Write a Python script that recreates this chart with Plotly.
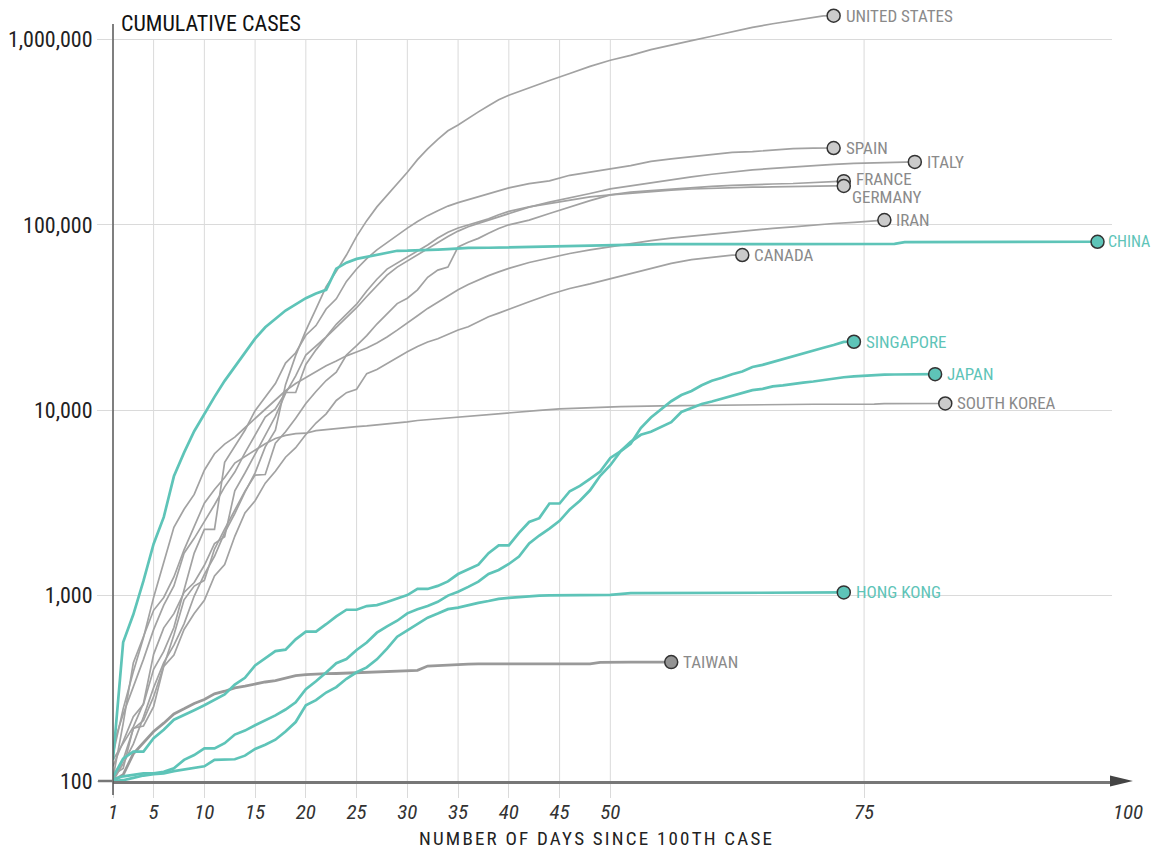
import math
import plotly.graph_objects as go

# ------------------------------------------------------------------ data
X_TICKS = [1, 5, 10, 15, 20, 25, 30, 35, 40, 45, 50, 75]
X_END_TICK = 100
Y_TICKS = [100, 1000, 10000, 100000, 1000000]
Y_TICK_TEXT = ["100", "1,000", "10,000", "100,000", "1,000,000"]

US_DAYS = list(range(1, 41)) + [42, 44, 46, 48, 50, 52, 54, 56, 58, 60, 62, 64, 66, 68, 70, 71, 72]
US_CASES = [100, 124, 158, 221, 319, 435, 541, 704, 994, 1301, 1630, 2183, 2770, 3613, 4596,
            6344, 7801, 13737, 19762, 26867, 35241, 46407, 56115, 68683, 86613, 105293, 124900,
            143779, 165861, 192177, 224544, 256722, 289114, 321635, 345616, 376041, 406513,
            438689, 472283, 500000,
            550000, 600000, 655000, 715000, 772000, 820000, 880000, 935000, 985000, 1040000,
            1100000, 1160000, 1215000, 1265000, 1310000, 1338000, 1342000]

SPAIN_DAYS = list(range(1, 41)) + [42, 44, 46, 48, 50, 52, 54, 56, 58, 60, 62, 64, 66, 68, 70, 71, 72]
SPAIN_CASES = [120, 165, 222, 259, 400, 500, 673, 1073, 1695, 2277, 2277, 5232, 6391, 7798, 9942,
               11748, 13910, 17963, 20410, 25374, 28603, 35136, 39885, 49515, 57786, 65719, 73235,
               80110, 87956, 95923, 104118, 112065, 119199, 126168, 131646, 136675, 141942,
               148220, 153222, 158273,
               166831, 172541, 184948, 191726, 200210, 208389, 219764, 226629, 232128, 239369,
               245567, 248301, 253682, 257500, 259000, 259300, 259500]

ITALY_DAYS = list(range(1, 41)) + [42, 44, 46, 48, 50, 52, 54, 56, 58, 60, 62, 64, 66, 68, 70,
                                   72, 74, 76, 78, 79, 80]
ITALY_CASES = [155, 229, 322, 453, 655, 888, 1128, 1694, 2036, 2502, 3089, 3858, 4636, 5883, 7375,
               9172, 10149, 12462, 12462, 17660, 21157, 24747, 27980, 31506, 35713, 41035, 47021,
               53578, 59138, 63927, 69176, 74386, 80589, 86498, 92472, 97689, 101739, 105792,
               110574, 115242,
               124632, 132547, 139422, 147577, 156363, 162488, 168941, 175925, 181228, 187327,
               192994, 197675, 201505, 205463, 209328, 211938, 214457, 215900, 217000, 217800,
               218300]

FRANCE_DAYS = list(range(1, 41)) + [42, 44, 46, 48, 50, 52, 54, 56, 58, 60, 62, 64, 66, 68, 70, 72, 73]
FRANCE_CASES = [100, 130, 191, 212, 285, 423, 613, 949, 1126, 1209, 1784, 2281, 2876, 3661, 4469,
                4499, 6633, 7652, 9043, 10871, 12612, 14459, 16018, 19856, 22302, 25233, 29155,
                32964, 37575, 40174, 44550, 52128, 56989, 59105, 76000, 80500, 84500, 90000,
                95500, 100000,
                106000, 115000, 125000, 135000, 145000, 150000, 153000, 156000, 159000, 161000,
                163000, 165000, 166000, 167000, 169000, 171000, 172000]

GERMANY_DAYS = list(range(1, 41)) + [42, 44, 46, 48, 50, 52, 54, 56, 58, 60, 62, 64, 66, 68, 70, 72, 73]
GERMANY_CASES = [130, 159, 196, 262, 482, 670, 799, 1040, 1176, 1457, 1908, 2078, 3675, 4585,
                 5795, 7272, 9257, 12327, 15320, 19848, 22213, 24873, 29056, 32986, 37323, 43938,
                 50871, 57695, 62095, 66885, 71808, 77872, 84794, 91159, 96092, 100123, 103374,
                 107663, 113296, 118181,
                 124908, 130072, 134753, 141397, 145184, 148291, 151500, 154000, 156000, 157500,
                 158500, 159500, 160000, 161000, 161500, 162000, 162000]

IRAN_DAYS = list(range(1, 41)) + [42, 44, 46, 48, 50, 52, 54, 56, 58, 60, 62, 64, 66, 68, 70,
                                  72, 74, 76, 77]
IRAN_CASES = [139, 245, 388, 593, 978, 1501, 2336, 2922, 3513, 4747, 5823, 6566, 7161, 8042, 9000,
              10075, 11364, 12729, 13938, 14991, 16169, 17361, 18407, 19644, 20610, 21638, 23049,
              24811, 27017, 29406, 32332, 35408, 38309, 41495, 44605, 47593, 50468, 53183, 55743,
              58226,
              62589, 66220, 70029, 73303, 76389, 79494, 82211, 84802, 87026, 89328, 91472, 93657,
              95646, 97424, 99970, 101650, 103135, 105500, 106000]

CANADA_DAYS = list(range(1, 41)) + [42, 44, 46, 48, 50, 52, 54, 56, 58, 60, 62, 63]
CANADA_CASES = [108, 117, 193, 198, 252, 415, 478, 657, 800, 943, 1277, 1469, 2088, 2790, 3251,
                4042, 4682, 5576, 6280, 7398, 8527, 9560, 11284, 12437, 12978, 15756, 16563,
                17872, 19141, 20654, 22059, 23316, 24299, 25680, 27063, 28209, 30106, 31927,
                33383, 35056,
                38422, 42110, 45354, 48033, 51150, 54457, 57926, 61957, 64922, 67000, 68600, 68700]

SKOREA_DAYS = list(range(1, 42)) + [43, 45, 47, 49, 51, 55, 60, 65, 70, 76, 77, 83]
SKOREA_CASES = [104, 204, 433, 602, 833, 977, 1261, 1766, 2337, 3150, 3736, 4335, 5186, 5621, 6088,
                6593, 7041, 7314, 7478, 7513, 7755, 7869, 7979, 8086, 8162, 8236, 8320, 8413,
                8565, 8652, 8799, 8897, 8961, 9037, 9137, 9241, 9332, 9478, 9583, 9661, 9786,
                9976, 10156, 10284, 10384, 10450, 10564, 10661, 10708, 10765, 10793, 10850, 10870]

TAIWAN_DAYS = list(range(1, 57))
TAIWAN_CASES = [100, 108, 140, 160, 185, 205, 230, 245, 262, 275,
                295, 305, 318, 325, 335, 342, 348, 360, 370, 375,
                378, 379, 380, 382, 385, 388, 390, 392, 393, 393,
                395, 417, 420, 422, 425, 427, 428, 428, 428, 428,
                428, 428, 428, 428, 428, 428, 428, 428, 436, 438,
                438, 438, 438, 438, 438, 438]

CHINA_DAYS = list(range(1, 37)) + [38, 40, 42, 45, 50, 53, 55, 60, 70, 78, 79, 85, 90, 98]
CHINA_CASES = [130, 560, 790, 1200, 1900, 2650, 4400, 5900, 7700, 9600, 11800, 14400, 17200,
               20400, 24300, 28000, 31200, 34500, 37200, 40200, 42600, 44600, 58000, 62500,
               65500, 67300, 69000, 70500, 72400, 72500, 72700, 73100, 73500, 74000, 74800, 75000,
               75200, 75600, 76000, 76500, 77000, 77800, 78600, 78700, 78800, 78900, 80600,
               80700, 80800, 81000]

SINGAPORE_DAYS = list(range(1, 75))
SINGAPORE_CASES = [102, 106, 108, 110, 110, 112, 117, 130, 138, 150,
                   150, 160, 178, 187, 200, 212, 226, 243, 266, 313,
                   345, 385, 432, 455, 509, 558, 631, 683, 732, 802,
                   844, 879, 926, 1000, 1049, 1114, 1189, 1309, 1375, 1481,
                   1623, 1910, 2108, 2299, 2532, 2918, 3252, 3699, 4427, 5050,
                   5992, 6588, 8014, 9125, 10141, 11178, 12075, 12693, 13624, 14423,
                   14951, 15641, 16169, 17101, 17548, 18205, 18778, 19410, 20198, 20939,
                   21707, 22460, 23336, 23400]

JAPAN_DAYS = list(range(1, 83))
JAPAN_CASES = [105, 132, 144, 144, 170, 189, 214, 228, 241, 256,
               274, 293, 331, 360, 420, 461, 502, 511, 581, 639,
               639, 701, 773, 839, 839, 878, 889, 924, 963, 1007,
               1086, 1086, 1128, 1193, 1307, 1387, 1468, 1693, 1866, 1866,
               2178, 2495, 2617, 3139, 3139, 3654, 3906, 4257, 4667, 5530,
               6005, 6748, 7370, 7645, 8100, 8626, 9787, 10296, 10797, 11135,
               11512, 11950, 12368, 12829, 13031, 13441, 13614, 13895, 14088, 14281,
               14544, 14839, 15057, 15231, 15354, 15463, 15547, 15575, 15600, 15620,
               15640, 15650]

HONGKONG_DAYS = list(range(1, 45)) + [46, 50, 52, 60, 73]
HONGKONG_CASES = [100, 101, 104, 107, 109, 110, 113, 115, 117, 120,
                  130, 131, 131, 137, 149, 157, 167, 185, 208, 256,
                  273, 300, 321, 356, 386, 410, 453, 518, 600, 650,
                  700, 760, 800, 845, 862, 890, 914, 935, 960, 973,
                  985, 995, 1000, 1002,
                  1004, 1010, 1030, 1035, 1040]

GREY_SERIES = [
    ("UNITED STATES", US_DAYS, US_CASES),
    ("SPAIN", SPAIN_DAYS, SPAIN_CASES),
    ("ITALY", ITALY_DAYS, ITALY_CASES),
    ("FRANCE", FRANCE_DAYS, FRANCE_CASES),
    ("GERMANY", GERMANY_DAYS, GERMANY_CASES),
    ("IRAN", IRAN_DAYS, IRAN_CASES),
    ("CANADA", CANADA_DAYS, CANADA_CASES),
    ("SOUTH KOREA", SKOREA_DAYS, SKOREA_CASES),
]
DARK_SERIES = [("TAIWAN", TAIWAN_DAYS, TAIWAN_CASES)]
TEAL_SERIES = [
    ("CHINA", CHINA_DAYS, CHINA_CASES),
    ("SINGAPORE", SINGAPORE_DAYS, SINGAPORE_CASES),
    ("JAPAN", JAPAN_DAYS, JAPAN_CASES),
    ("HONG KONG", HONGKONG_DAYS, HONGKONG_CASES),
]

# ------------------------------------------------------------------ style
TEAL = "#5ec4b8"
GREY_LINE = "#a2a2a2"
DARK_LINE = "#999999"
GREY_TEXT = "#8a8a8a"
GRID = "#dadada"
AXIS = "#555555"
NARROW = "Liberation Sans Narrow, Roboto Condensed, Arial Narrow, sans-serif"

LABEL_SHIFT = {"FRANCE": (10, 2), "GERMANY": (6, -11), "CHINA": (8, 0)}
LABEL_SIZE = {"CHINA": 16}

W, H = 1151, 851
L, R, T, B = 111, 39, 8, 70
PX_PER_DAY = 10.17
PX_PER_DECADE = 185.4
plot_w = W - L - R
plot_h = H - T - B
x_range = [1, 1 + plot_w / PX_PER_DAY]
y_range = [2, 2 + plot_h / PX_PER_DECADE]

fig = go.Figure()


def add_line(days, cases, color, width):
    fig.add_trace(go.Scatter(x=days, y=cases, mode="lines",
                             line=dict(color=color, width=width, shape="linear"),
                             hoverinfo="skip", showlegend=False))


for name, d, c in GREY_SERIES:
    add_line(d, c, GREY_LINE, 1.7)
for name, d, c in DARK_SERIES:
    add_line(d, c, DARK_LINE, 2.8)
for name, d, c in TEAL_SERIES:
    add_line(d, c, TEAL, 2.7)

annotations = []


def add_end(name, days, cases, fill, text_color):
    fig.add_trace(go.Scatter(x=[days[-1]], y=[cases[-1]], mode="markers",
                             marker=dict(size=13, color=fill, line=dict(color="#333333", width=1.5)),
                             cliponaxis=False, hoverinfo="skip", showlegend=False))
    dx, dy = LABEL_SHIFT.get(name, (10, 0))
    annotations.append(dict(x=days[-1], y=math.log10(cases[-1]), xref="x", yref="y",
                            text=name, showarrow=False, xanchor="left", yanchor="middle",
                            xshift=dx, yshift=dy,
                            font=dict(family=NARROW, size=LABEL_SIZE.get(name, 17),
                                      color=text_color)))


for name, d, c in GREY_SERIES:
    add_end(name, d, c, "#cbcbcb", GREY_TEXT)
for name, d, c in DARK_SERIES:
    add_end(name, d, c, "#939393", GREY_TEXT)
for name, d, c in TEAL_SERIES:
    add_end(name, d, c, TEAL, TEAL)

# title and axis title
annotations.append(dict(x=0, y=1, xref="paper", yref="paper", xanchor="left", yanchor="top",
                        xshift=6, yshift=-1, showarrow=False, text="CUMULATIVE CASES",
                        font=dict(family=NARROW, size=22, color="#111111")))
annotations.append(dict(x=(595 - L) / plot_w, y=(781 - 838) / plot_h, xref="paper", yref="paper",
                        xanchor="center", yanchor="middle", showarrow=False,
                        text='<span style="letter-spacing:2.2px">NUMBER OF DAYS SINCE 100TH CASE</span>',
                        font=dict(family=NARROW, size=19, color="#222222")))
annotations.append(dict(x=(X_END_TICK - x_range[0]) / (x_range[1] - x_range[0]), y=0,
                        xref="paper", yref="paper", xanchor="center",
                        yanchor="top", xshift=10, yshift=-17, showarrow=False,
                        text=str(X_END_TICK),
                        font=dict(family=NARROW, size=21, color="#333333", style="italic")))

# vertical grid lines (from 100 to 1,000,000 only), y-axis line, arrow
top_grid = (math.log10(Y_TICKS[-1]) - y_range[0]) / (y_range[1] - y_range[0])
shapes = []
for t in X_TICKS[1:]:
    shapes.append(dict(type="line", xref="x", yref="paper", x0=t, x1=t, y0=0, y1=top_grid,
                       line=dict(color=GRID, width=1), layer="below"))
shapes.append(dict(type="line", xref="paper", yref="paper", x0=0, x1=0,
                   y0=-14 / plot_h, y1=(781 - 24) / plot_h,
                   line=dict(color=AXIS, width=1.5), layer="above"))
shapes.append(dict(type="line", xref="paper", yref="paper", x0=-15 / plot_w, x1=0, y0=0, y1=0,
                   line=dict(color="#777777", width=2.5), layer="above"))
shapes.append(dict(type="path", xref="paper", yref="paper",
                   path="M 0.998,{a} L {tip},0 L 0.998,-{a} Z".format(a=5.5 / plot_h,
                                                                      tip=1 + 21 / plot_w),
                   fillcolor="#444444", line=dict(width=0), layer="above"))

fig.update_layout(
    width=W, height=H,
    margin=dict(l=L, r=R, t=T, b=B, pad=0),
    paper_bgcolor="white", plot_bgcolor="white",
    showlegend=False,
    annotations=annotations,
    shapes=shapes,
    xaxis=dict(range=x_range, tickvals=X_TICKS, ticktext=[str(v) for v in X_TICKS],
               showgrid=False, zeroline=False, showline=True, linecolor="#777777",
               linewidth=2.5, ticks="outside", ticklen=14, tickcolor=GRID, tickwidth=1,
               ticklabelstandoff=-4,
               tickfont=dict(family=NARROW, size=21, color="#333333", style="italic")),
    yaxis=dict(type="log", range=y_range, tickvals=Y_TICKS, ticktext=Y_TICK_TEXT,
               showgrid=True, gridcolor=GRID, gridwidth=1, zeroline=False, showline=False,
               ticks="outside", ticklen=15, tickcolor=GRID, tickwidth=1,
               tickfont=dict(family=NARROW, size=22, color="#222222")),
)

fig.write_html("out.html", config={"displayModeBar": False},
               post_script="document.body.style.margin='0px';")
